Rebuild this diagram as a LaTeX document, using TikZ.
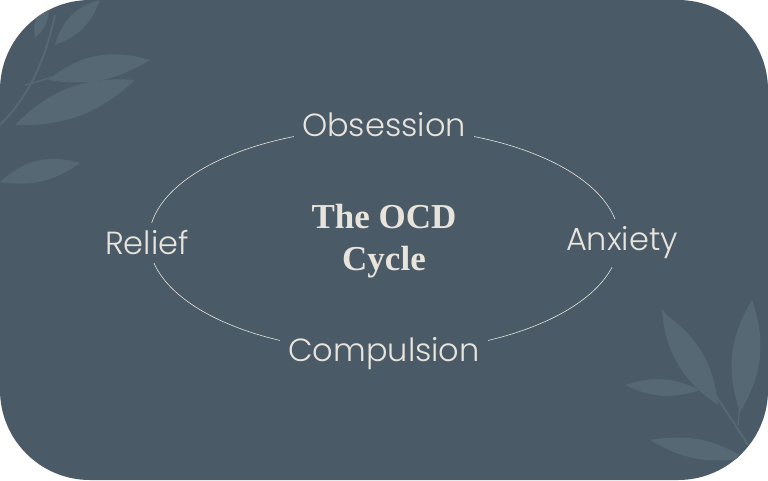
\documentclass[tikz,border=0pt]{standalone}
\usepackage{fontspec}
\setmainfont{Liberation Serif}
\newfontfamily\labelfont{Poppins Light}[UprightFont=*]
\definecolor{bgc}{HTML}{4A5A66}
\definecolor{leafc}{HTML}{576875}
\definecolor{txt}{HTML}{E8E4DC}
\begin{document}
\begin{tikzpicture}[x=1pt,y=-1pt,
  lbl/.style={font=\labelfont\fontsize{32}{36}\selectfont, text=txt, fill=bgc, inner sep=8pt},
  leaf/.style={fill=leafc}]
\useasboundingbox (0,0) rectangle (768,480);
\fill[white] (0,0) rectangle (768,480);
\fill[bgc, rounded corners=90pt] (0,0) rectangle (768,480);
\begin{scope}
\clip[rounded corners=90pt] (0,0) rectangle (768,480);
% top-left sprig
\draw[leafc, line width=2pt] (0,125) .. controls (30,95) and (45,60) .. (55,15);
\draw[leafc, line width=1.5pt] (25,85) -- (60,75);
\fill[leaf] (48,80) to[bend left=28] (150,60) to[bend left=20] (48,80);
\fill[leaf] (15,125) to[bend left=25] (135,80) to[bend left=22] (15,125);
\fill[leaf] (0,182) to[bend left=30] (80,163) to[bend left=22] (0,182);
\fill[leaf] (35,38) to[bend left=30] (48,2) to[bend left=30] (35,38);
\fill[leaf] (55,45) to[bend left=30] (100,0) to[bend left=25] (55,45);
% bottom-right sprig
\draw[leafc, line width=2pt] (748,445) .. controls (720,400) and (690,360) .. (662,310);
\draw[leafc, line width=1.5pt] (738,425) -- (742,380);
\fill[leaf] (718,405) to[bend left=25] (662,312) to[bend left=25] (718,405);
\fill[leaf] (700,390) to[bend left=22] (625,385) to[bend left=22] (700,390);
\fill[leaf] (740,412) to[bend left=25] (752,300) to[bend left=25] (740,412);
\fill[leaf] (745,458) to[bend left=20] (650,440) to[bend left=20] (745,458);
\end{scope}
\draw[txt, line width=0.6pt] (384,240) ellipse [x radius=235, y radius=112];
\node[lbl] (obs) at (384,125) {Obsession};
\node[lbl] (anx) at (622,243) {Anxiety};
\node[lbl] (com) at (384,354) {Compulsion};
\node[lbl] (rel) at (147,243) {Relief};
\node[text=txt, align=center, font=\bfseries\fontsize{35}{42}\selectfont] (title) at (384,241) {The OCD\\Cycle};
\end{tikzpicture}
\end{document}
